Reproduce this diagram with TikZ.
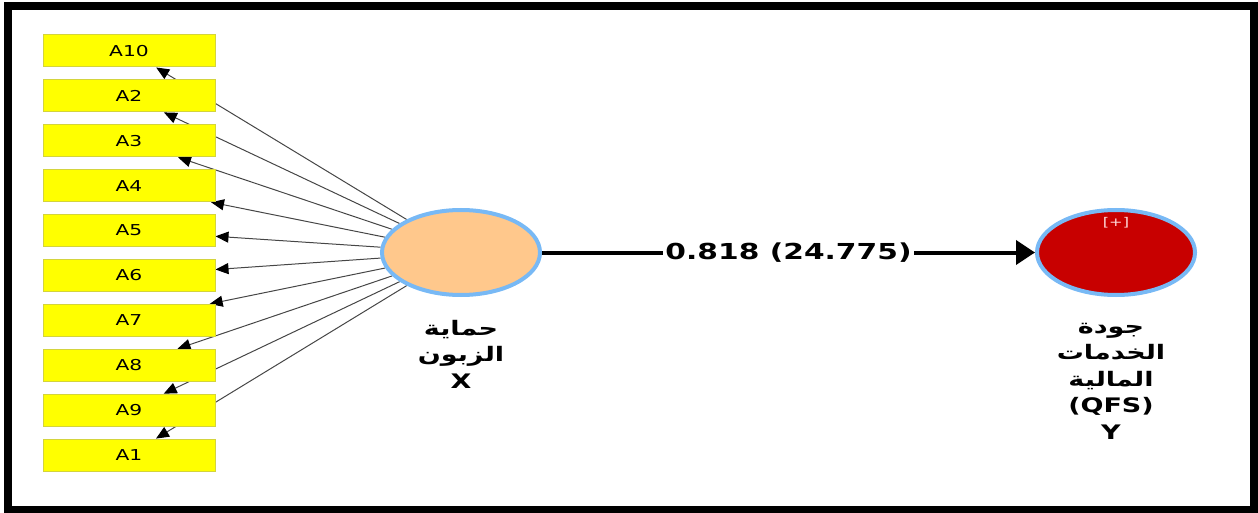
\documentclass[tikz,border=0pt]{standalone}
\usepackage{fontspec}
\setmainfont{DejaVu Sans}[FakeStretch=1.35]
\newfontfamily\arabicfont[Script=Arabic,FakeStretch=1.35]{DejaVu Sans}
\TeXXeTstate=1
\usetikzlibrary{positioning,arrows.meta,shapes.geometric,backgrounds}
\definecolor{boxyellow}{RGB}{255,255,0}
\definecolor{boxedge}{RGB}{212,212,60}
\definecolor{latentpeach}{RGB}{255,200,140}
\definecolor{latentred}{RGB}{200,0,0}
\definecolor{ringblue}{RGB}{120,185,245}
\definecolor{loadgray}{RGB}{70,70,70}

\begin{document}
\begin{tikzpicture}[x=1pt,y=-1pt,
  itembox/.style={draw=boxedge,fill=boxyellow,line width=1pt,
    minimum width=172pt,minimum height=32pt,inner sep=0pt,
    font=\fontsize{15}{17}\selectfont},
  latent/.style={ellipse,draw=ringblue,line width=4pt,
    minimum width=158pt,minimum height=85pt,inner sep=0pt},
  loading/.style={draw=loadgray,line width=1pt,
    -{Triangle[length=13pt,width=11pt,black]}},
  lvlabel/.style={font=\bfseries\fontsize{20}{26.5}\selectfont,align=center,inner sep=0pt}]
  \useasboundingbox (0,0) rectangle (1258,513);

  % ── Frame ──
  \draw[line width=8pt] (8,6.5) rectangle (1254,510);

  % ── Indicators ──
  \foreach \lab [count=\i] in {A10,A2,A3,A4,A5,A6,A7,A8,A9,A1}
    \node[itembox] (\lab) at (129,{51+44.9*(\i-1)}) {\lab};

  % ── Latent variables ──
  \node[latent,fill=latentpeach] (X) at (461,252.5) {};
  \node[latent,fill=latentred] (Y) at (1116,252.5) {};
  \node[font=\fontsize{12}{14}\selectfont,text=red!15!white] (Yplus)
    at ([yshift=-15pt]Y.north) {[+]};

  % ── Outer loadings (behind the boxes) ──
  \begin{pgfonlayer}{background}
    \foreach \lab in {A10,A2,A3,A4,A5,A6,A7,A8,A9,A1}
      \draw[loading] (X) -- (\lab);
  \end{pgfonlayer}

  % ── Path coefficient ──
  \draw[line width=4pt,-{Triangle[length=19pt,width=24pt]}] (X) --
    node[fill=white,inner sep=2pt,font=\bfseries\fontsize{22}{26}\selectfont] (coef)
    {0.818 (24.775)} (Y);

  % ── Labels ──
  \node[lvlabel,anchor=north] (Xlab) at (461,320)
    {{\arabicfont\beginR حماية\endR}\\{\arabicfont\beginR الزبون\endR}\\X};
  \node[lvlabel,anchor=north] (Ylab) at (1111,323)
    {{\arabicfont\beginR جودة\endR}\\{\arabicfont\beginR الخدمات\endR}\\
     {\arabicfont\beginR المالية\endR}\\(QFS)\\Y};
\end{tikzpicture}
\end{document}
